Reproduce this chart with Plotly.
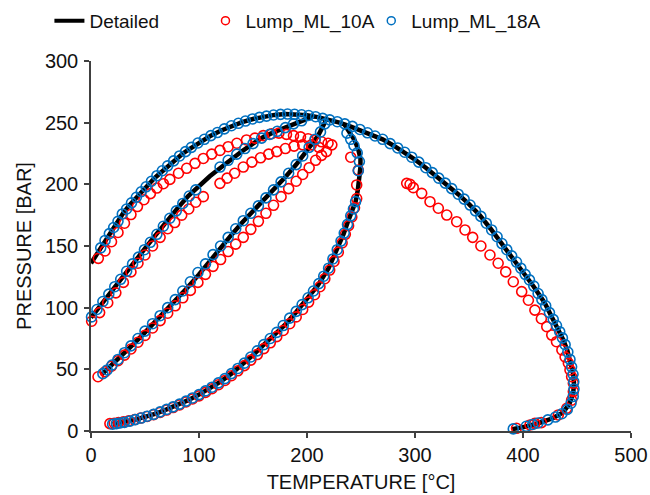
import plotly.graph_objects as go

# ---------------- Detailed (black line) ----------------
det_env_T = [0, 5, 10, 15, 20, 25, 30, 35, 40, 45, 50, 55, 60, 65, 70, 75, 80, 85, 90, 95, 100, 110, 120, 130, 140, 150,
             160, 170, 180, 190, 200, 210, 220, 230, 240, 250, 260, 270, 280, 290, 300, 310, 320, 330, 340, 350, 360,
             370, 380, 390, 400, 410, 420, 426, 432, 437, 441, 444, 446.2, 447.2, 446.5, 443, 437, 428, 415, 402, 390]
det_env_P = [136, 143, 150, 157, 163.5, 170, 177, 182.5, 187.5, 192.5, 197, 201.5, 206, 210, 214, 218, 221.5, 225, 228,
             231, 234, 239, 243.5, 247.5, 250.5, 253, 255, 256.3, 257, 256.8, 256, 254.5, 252.5, 250, 247, 243.5, 240,
             236.5, 231.5, 226, 220, 213.5, 206.5, 199.5, 192, 184, 175, 164, 152.5, 141.5, 129.5, 117, 104, 94, 84,
             74.5, 65.5, 56.5, 47.5, 39, 30.5, 22, 15, 10.5, 6.5, 3.5, 1.5]
det_A_T = [0, 10, 20, 30, 40, 50, 60, 70, 80, 90, 100, 110, 120, 130, 140, 150, 160, 170, 180, 190, 200, 207]
det_A_P = [92, 103.5, 115, 126.5, 137, 148, 159, 170, 180.5, 190.5, 199, 206.5, 213.5, 220.5, 227, 233, 238.5, 242.5,
           246, 249.5, 253, 255.5]
det_B_T = [10, 20, 30, 40, 50, 60, 70, 80, 90, 100, 110, 120, 130, 140, 150, 160, 170, 180, 190, 200, 210, 217]
det_B_P = [46, 54, 62, 71, 80, 89, 98, 107.5, 117, 127, 138, 149, 159, 169, 178, 187.5, 196.5, 206, 216, 227, 239, 251]
det_C_T = [20, 30, 40, 50, 60, 70, 80, 90, 100, 110, 120, 130, 140, 150, 160, 170, 180, 190, 200, 210, 220, 228, 234,
           238, 242, 245, 247, 248.5, 249.5, 249.5, 247.5, 244, 240, 235]
det_C_P = [5.5, 7, 9, 11.5, 14, 17.5, 21, 25, 29.5, 34.5, 40, 46.5, 53.5, 61.5, 70, 78, 86.5, 96.5, 107, 118, 132, 147,
           160, 170, 178, 186, 195, 205, 214, 221, 228, 236, 242, 248]

# ---------------- Lump_ML_10A (red circles) ----------------
red_env_T = [6.8, 13, 19, 25, 31, 37, 43, 49, 55, 61, 67, 73, 81, 88.6, 96.3, 104, 111.8, 119.4, 127, 135, 144, 151.8,
             159.5, 167.3, 174, 181, 187.5, 194, 201, 207.5, 213.5, 219.5, 223]
red_env_P = [140, 146, 153.5, 161, 168.5, 175.5, 182, 187.5, 192.5, 197, 200.5, 204, 209, 213, 217, 221, 224.5, 227.5,
             230.5, 233.3, 236, 237.5, 239.5, 241, 241.5, 240.5, 239.5, 238.5, 237, 236, 234.5, 233.3, 232]
red_A_T = [0.6, 8, 15.5, 23, 30, 37, 43.5, 50, 57, 64, 71, 77.5, 84, 90.5, 97, 104, 119.4, 126, 133, 141, 149, 157,
           164.5, 172, 180, 188, 196, 204, 211, 218]
red_A_P = [89, 96, 104, 112, 120.5, 129, 136, 142.7, 150, 157, 164, 169, 175, 180, 185.5, 190, 200.8, 205, 209, 214,
           218, 221.5, 224.5, 226.5, 229, 231, 232, 232, 230, 226.5]
red_B_T = [6.5, 13, 19, 25, 31, 37, 43.5, 50, 57, 64, 71, 78, 85, 92, 99, 106, 113, 120, 127, 134, 141, 148, 155, 162,
           169, 176, 183, 190, 196, 202, 208, 213.5]
red_B_P = [44, 48, 52.5, 57, 61.5, 66.5, 72, 77.5, 83.5, 89.5, 95.5, 101.5, 108, 114, 120.5, 127, 133.5, 139, 145.5,
           151.5, 157, 163.5, 170, 176.5, 183, 190, 196.5, 202.5, 208, 213.5, 219.5, 223.5]
red_C_T = [17.5, 21.5, 25.5, 30, 35, 40.5, 46, 52, 58, 64, 70, 76, 82, 88, 94, 100, 106, 112, 118, 124, 130, 136, 142,
           148, 154, 160, 166, 172, 178, 184, 190, 196, 201.5, 207, 212, 216.5, 221, 225, 229, 232.5, 235.5, 238.5,
           241.5, 244, 246, 246, 247.5, 240.5]
red_C_P = [6, 6.3, 6.8, 7.4, 8.2, 9.3, 10.5, 11.8, 13.3, 15, 17, 19, 21.2, 23.5, 26, 28.5, 31.3, 34.3, 37.5, 41, 44.8,
           48.8, 53, 57.5, 62, 66.8, 71.5, 76.5, 81.5, 87, 92.5, 98.5, 104.5, 110.5, 117, 123.5, 130.5, 137.5, 145,
           152.5, 159.5, 166.5, 173.5, 181, 188.5, 199.5, 211.5, 222]
red_dew_T = [292.3, 295.4, 298.4, 306.2, 313.9, 321.6, 329.4, 338.6, 346.3, 353.4, 361, 369.4, 377, 384, 391, 398.8,
             405, 411, 417, 422, 426.6, 431, 436, 439, 442, 443.5, 445, 446.6, 446.6, 445, 440.5, 432.7, 417, 411,
             406.5, 394]
red_dew_P = [200.8, 200, 197.3, 192.7, 185.9, 180.6, 175.1, 169.7, 163, 157, 150, 142.7, 136, 129, 121, 113, 106, 98,
             91, 84.6, 77.8, 72.4, 65.7, 60, 55, 49.5, 44, 38.7, 32, 25, 18.4, 13, 6.8, 6.2, 4.9, 2.2]

# ---------------- Lump_ML_18A (blue circles) ----------------
blue_env_T = [9, 13, 17, 21, 25, 29, 33, 37.5, 42, 46.5, 51, 56, 61, 66, 71, 76.5, 82, 87.5, 93, 99, 105, 111, 117,
              123.5, 130, 136.5, 143, 149.5, 156, 162.5, 169, 175.5, 182, 188.5, 195, 201.5, 208, 214.5, 221,
              228, 235, 242, 249, 256, 263, 270, 277, 284, 290.5, 297, 303.5, 310, 316, 322, 328, 334, 340, 345.5,
              351, 356, 361, 366, 371, 376, 380.5, 385, 389.5, 394, 398, 402, 406, 410, 414, 417.5, 421, 424.5, 428,
              431, 434, 436.5, 439, 441.5, 443.5, 445, 446.3, 447, 447.2, 446.5, 444.5, 441, 436, 430, 423, 414, 409,
              403, 391]
blue_env_P = [148.5, 154.5, 160, 165, 170, 176, 180, 185, 189.5, 194, 198, 202.5, 207, 211, 215, 219, 223, 226.5, 230,
              233.5, 236.5, 239.5, 242, 245, 247.5, 249.5, 251.3, 253, 254.3, 255.3, 256.2, 256.7, 257, 256.8, 256.4,
              255.8, 254.8, 253.5, 252.3,
              250.8, 249, 247, 244.5, 241.8, 239.2, 236.5, 233, 229.5, 226, 222, 218, 213.5, 209.5, 205, 201, 196.5,
              192, 188, 183.2, 178.5, 174, 168.5, 163, 157.5, 152, 147, 142, 137, 132, 127, 122.5, 117.5, 111.5, 106.5,
              101.5, 96, 90.5, 85.5, 80.5, 75.5, 70, 64, 58, 52, 46, 40, 34, 28, 22.5, 17.5, 14, 11.3, 9, 6.5, 5.3,
              3.8, 1.7]
blue_A_T = [0.5, 5.5, 11, 16.5, 22, 27.5, 33, 38.5, 44, 49.5, 55, 61, 67, 73, 79, 85, 91, 97, 119.5, 127, 135, 142.5,
            150, 158, 165.5, 172.5, 180, 187.5, 195]
blue_A_P = [92.5, 98.5, 105, 111, 117, 123, 129.5, 135.5, 141, 147, 153, 159.5, 166, 172.5, 178.5, 184.5, 190.5,
            195.5, 214, 219.5, 224.5, 229, 233, 237.5, 240.5, 243, 246, 249, 251.5]
blue_B_T = [11, 15, 19.5, 25, 31, 37, 43.5, 50, 57, 64, 71, 78, 85, 92, 99, 106, 113, 120, 127, 134, 141, 148, 155,
            162, 169, 176, 183, 190, 196, 202, 207.5, 212.5, 216.5]
blue_B_P = [46.5, 49.5, 53.5, 58, 63.5, 69, 75, 81, 87, 93.5, 100, 106.5, 113.5, 121, 128.5, 135.5, 143, 150, 157,
            164, 170.5, 176.5, 182.5, 189, 195.5, 202, 209, 216, 223, 230, 236.5, 242.5, 249]
blue_C_T = [20, 23.5, 27, 31, 36, 41, 46.5, 52, 58, 64, 70, 76, 82, 88, 94, 100, 106, 112, 118, 124, 130, 136, 142,
            148, 154, 160, 166, 172, 178, 184, 190, 195.5, 201, 206, 211, 215.5, 220, 224, 228, 231.5, 234.5, 237.5,
            240.5, 243, 245, 247.5, 248.5, 246.5, 243.5, 240.5, 237]
blue_C_P = [5.5, 6, 6.5, 7, 8, 9.2, 10.5, 12, 13.5, 15.5, 17.5, 19.6, 21.8, 24.2, 26.8, 29.5, 32.5, 35.5, 39, 42.5,
            46.5, 50.7, 55, 60, 65, 70, 75, 80, 85.5, 91.5, 97, 102.5, 108, 113.5, 119.5, 125.5, 132, 139.5, 147,
            154, 160.5, 167.5, 174.5, 180, 186, 211, 218.5, 225.5, 231.5, 236.5, 241.5]

x_ticks = [0, 100, 200, 300, 400, 500]
y_ticks = [0, 50, 100, 150, 200, 250, 300]


def join(*segs):
    xs, ys = [], []
    for i, (sx, sy) in enumerate(segs):
        if i:
            xs.append(None)
            ys.append(None)
        xs += list(sx)
        ys += list(sy)
    return xs, ys


RED = "#FF0000"
BLUE = "#0070C0"
FONT = "Liberation Sans, Arial, sans-serif"
TXT = "#111111"

fig = go.Figure()

dx, dy = join((det_env_T, det_env_P), (det_A_T, det_A_P), (det_B_T, det_B_P), (det_C_T, det_C_P))
fig.add_trace(go.Scatter(x=dx, y=dy, mode="lines", line=dict(color="black", width=4.5),
                         showlegend=False, cliponaxis=False, hoverinfo="skip"))

rx, ry = join((red_env_T, red_env_P), (red_A_T, red_A_P), (red_B_T, red_B_P), (red_C_T, red_C_P),
              (red_dew_T, red_dew_P))
fig.add_trace(go.Scatter(x=rx, y=ry, mode="markers",
                         marker=dict(symbol="circle-open", size=10, color=RED, line=dict(width=1.6, color=RED)),
                         showlegend=False, cliponaxis=False))

bx, by = join((blue_env_T, blue_env_P), (blue_A_T, blue_A_P), (blue_B_T, blue_B_P), (blue_C_T, blue_C_P))
fig.add_trace(go.Scatter(x=bx, y=by, mode="markers",
                         marker=dict(symbol="circle-open", size=10, color=BLUE, line=dict(width=1.6, color=BLUE)),
                         showlegend=False, cliponaxis=False))

# legend entries (one legend per entry for exact placement)
fig.add_trace(go.Scatter(x=[None], y=[None], mode="lines", name="Detailed", legend="legend",
                         line=dict(color="black", width=4)))
fig.add_trace(go.Scatter(x=[None], y=[None], mode="markers", name="Lump_ML_10A", legend="legend2",
                         marker=dict(symbol="circle-open", size=8, color=RED, line=dict(width=1.5, color=RED))))
fig.add_trace(go.Scatter(x=[None], y=[None], mode="markers", name="Lump_ML_18A", legend="legend3",
                         marker=dict(symbol="circle-open", size=8, color=BLUE, line=dict(width=1.5, color=BLUE))))

axis_common = dict(showline=True, linecolor="#404040", linewidth=1.5, ticks="outside", ticklen=5,
                   tickcolor="#404040", tickwidth=1.5, showgrid=False, zeroline=False,
                   tickfont=dict(family=FONT, size=20, color=TXT))

leg_common = dict(orientation="h", xanchor="left", y=1.16, yanchor="top",
                  font=dict(family=FONT, size=19, color=TXT), bgcolor="rgba(0,0,0,0)", itemwidth=30)

fig.update_layout(
    width=650, height=495,
    margin=dict(l=91, r=19, t=61, b=64, autoexpand=False),
    paper_bgcolor="white", plot_bgcolor="white",
    font=dict(family=FONT, size=19, color=TXT),
    xaxis=dict(range=[0, 500], tickvals=x_ticks,
               title=dict(text="TEMPERATURE [°C]", font=dict(family=FONT, size=20, color=TXT), standoff=10),
               **axis_common),
    yaxis=dict(range=[0, 300], tickvals=y_ticks, ticklabelstandoff=2,
               title=dict(text="PRESSURE [BAR]", font=dict(family=FONT, size=20, color=TXT), standoff=8),
               **axis_common),
    legend=dict(x=-0.077, **leg_common),
    legend2=dict(x=0.212, **leg_common),
    legend3=dict(x=0.519, **leg_common),
    showlegend=True,
)

fig.write_html("out.html")
